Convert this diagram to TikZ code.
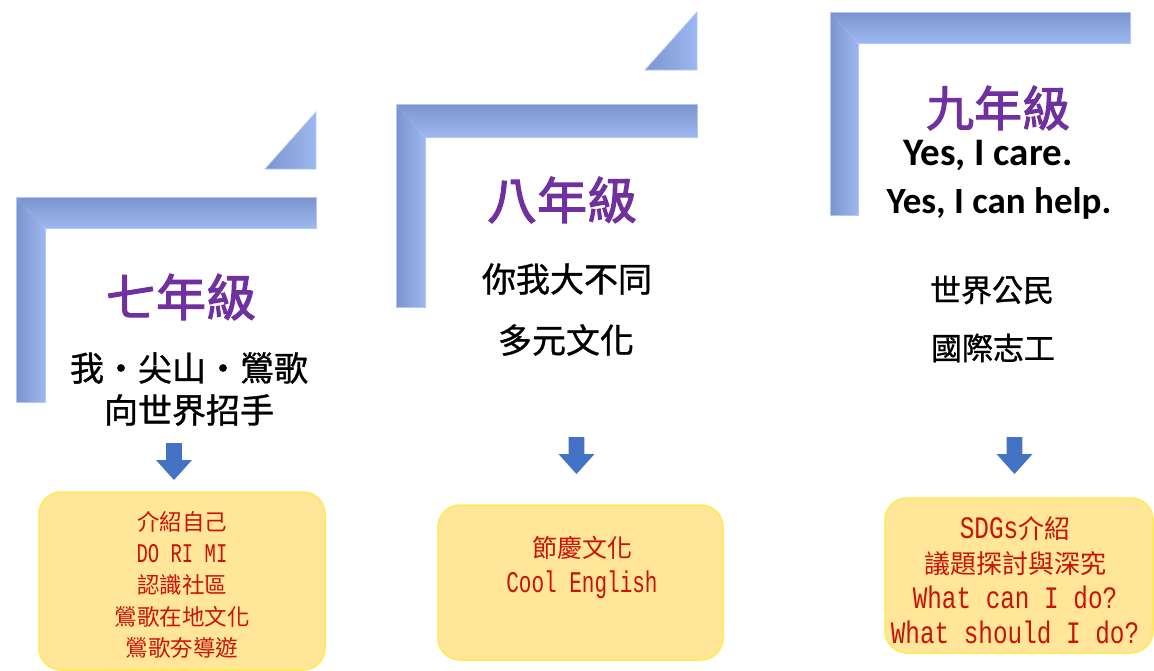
\documentclass[tikz,border=0pt]{standalone}
\usepackage{fontspec}
\newfontfamily\cjk{Noto Sans CJK TC}
\newfontfamily\cjkm[FakeBold=1]{Noto Sans CJK TC}
\newfontfamily\cjkg[FakeBold=2.2]{Noto Sans CJK TC}
\newfontfamily\calib{Carlito}
\newfontfamily\rmono[FakeStretch=0.7,Scale=1.2]{Liberation Mono}
\newfontfamily\rmonow[FakeStretch=0.78,Scale=1.2]{Liberation Mono}
\newcommand{\lat}[1]{{\rmono #1}}
\newcommand{\latw}[1]{{\rmonow #1}}
\definecolor{barA}{HTML}{7B94CE}
\definecolor{barB}{HTML}{9DB8EE}
\definecolor{barEdge}{HTML}{AFC8F5}
\definecolor{gradepurple}{HTML}{7030A0}
\definecolor{arrowblue}{HTML}{4472C4}
\definecolor{boxfill}{HTML}{FFE699}
\definecolor{boxline}{HTML}{FFEA55}
\definecolor{boxred}{HTML}{C8140A}
\newcommand{\stepbar}[6]{%
  \shade[top color=barA,bottom color=barB] (#1,#2) -- (#3,#2) -- (#3,#4) -- (#5,#4) -- cycle;
  \shade[left color=barA,right color=barB] (#1,#2) -- (#5,#4) -- (#5,#6) -- (#1,#6) -- cycle;
  \draw[barEdge,line width=0.8pt] (#1,#2) -- (#3,#2) -- (#3,#4) -- (#5,#4) -- (#5,#6) -- (#1,#6) -- cycle;
}
\newcommand{\steptri}[4]{%
  \shade[left color=barA,right color=barB] (#1,#4) -- (#2,#3) -- (#2,#4) -- cycle;
  \draw[barEdge,line width=0.8pt] (#1,#4) -- (#2,#3) -- (#2,#4) -- cycle;
}
\tikzset{
  downarrow/.pic={\fill[arrowblue] (-7.8,0) -- (7.8,0) -- (7.8,17) -- (18,17) -- (0,37) -- (-18,17) -- (-7.8,17) -- cycle;},
  grade/.style={inner sep=0pt,text=gradepurple,font=\cjkg\fontsize{50}{56}\selectfont},
  motto/.style={inner sep=0pt,text=black,font=\cjkm\fontsize{34}{40}\selectfont},
  engmotto/.style={inner sep=0pt,text=black,font=\calib\bfseries\fontsize{37}{42}\selectfont},
  boxbg/.style={draw=boxline,line width=1.5pt,fill=boxfill,rounded corners=22pt,inner sep=0pt},
  boxtext/.style={inner sep=0pt,text=boxred,align=center},
}
\begin{document}
\begin{tikzpicture}[x=1pt,y=-1pt]
\useasboundingbox (0,0) rectangle (1154,670);
\fill[white] (0,0) rectangle (1154,670);

% steps
\stepbar{16}{197}{316}{228}{45}{402}
\steptri{265}{316}{112}{169}
\stepbar{396}{104}{697}{137}{425}{307}
\steptri{645}{697}{12}{70}
\stepbar{830}{12}{1130}{43}{858}{215}

% grade 7
\node[grade] (g7) at (181,297) {七年級};
\node[motto] (g7a) at (189,368) {我・尖山・鶯歌};
\node[motto] (g7b) at (189,410) {向世界招手};
% grade 8
\node[grade] (g8) at (562,200) {八年級};
\node[motto] (g8a) at (567,279) {你我大不同};
\node[motto] (g8b) at (566,340) {多元文化};
% grade 9
\node[grade,font=\cjkg\fontsize{48}{54}\selectfont] (g9) at (998,108) {九年級};
\node[engmotto,font=\calib\bfseries\fontsize{39}{44}\selectfont] (g9a) at (988,155) {Yes, I care.};
\node[engmotto] (g9b) at (999,203) {Yes, I can help.};
\node[motto,font=\cjkm\fontsize{31}{36}\selectfont] (g9c) at (992,290) {世界公民};
\node[motto,font=\cjkm\fontsize{31}{36}\selectfont] (g9d) at (993,348) {國際志工};

% arrows
\pic at (174,443) {downarrow};
\pic at (576.5,437) {downarrow};
\pic at (1014.5,437) {downarrow};

% boxes
\node[boxbg,minimum width=286pt,minimum height=178pt] (b7) at (182,581) {};
\node[boxtext,font=\cjk\fontsize{22.5}{31.5}\selectfont] (t7) at (182,585)
  {介紹自己\\\lat{DO RI MI}\\認識社區\\鶯歌在地文化\\鶯歌夯導遊};
\node[boxbg,minimum width=285pt,minimum height=155pt] (b8) at (580.5,582.5) {};
\node[boxtext,font=\cjk\fontsize{25}{35}\selectfont] (t8) at (582,567.5)
  {節慶文化\\\lat{Cool English}};
\node[boxbg,minimum width=268pt,minimum height=155pt] (b9) at (1019,575.5) {};
\node[boxtext,font=\cjk\fontsize{26}{35}\selectfont] (t9) at (1015,580)
  {\latw{SDGs}介紹\\議題探討與深究\\\latw{What can I do?}\\\latw{What should I do?}};
\end{tikzpicture}
\end{document}
